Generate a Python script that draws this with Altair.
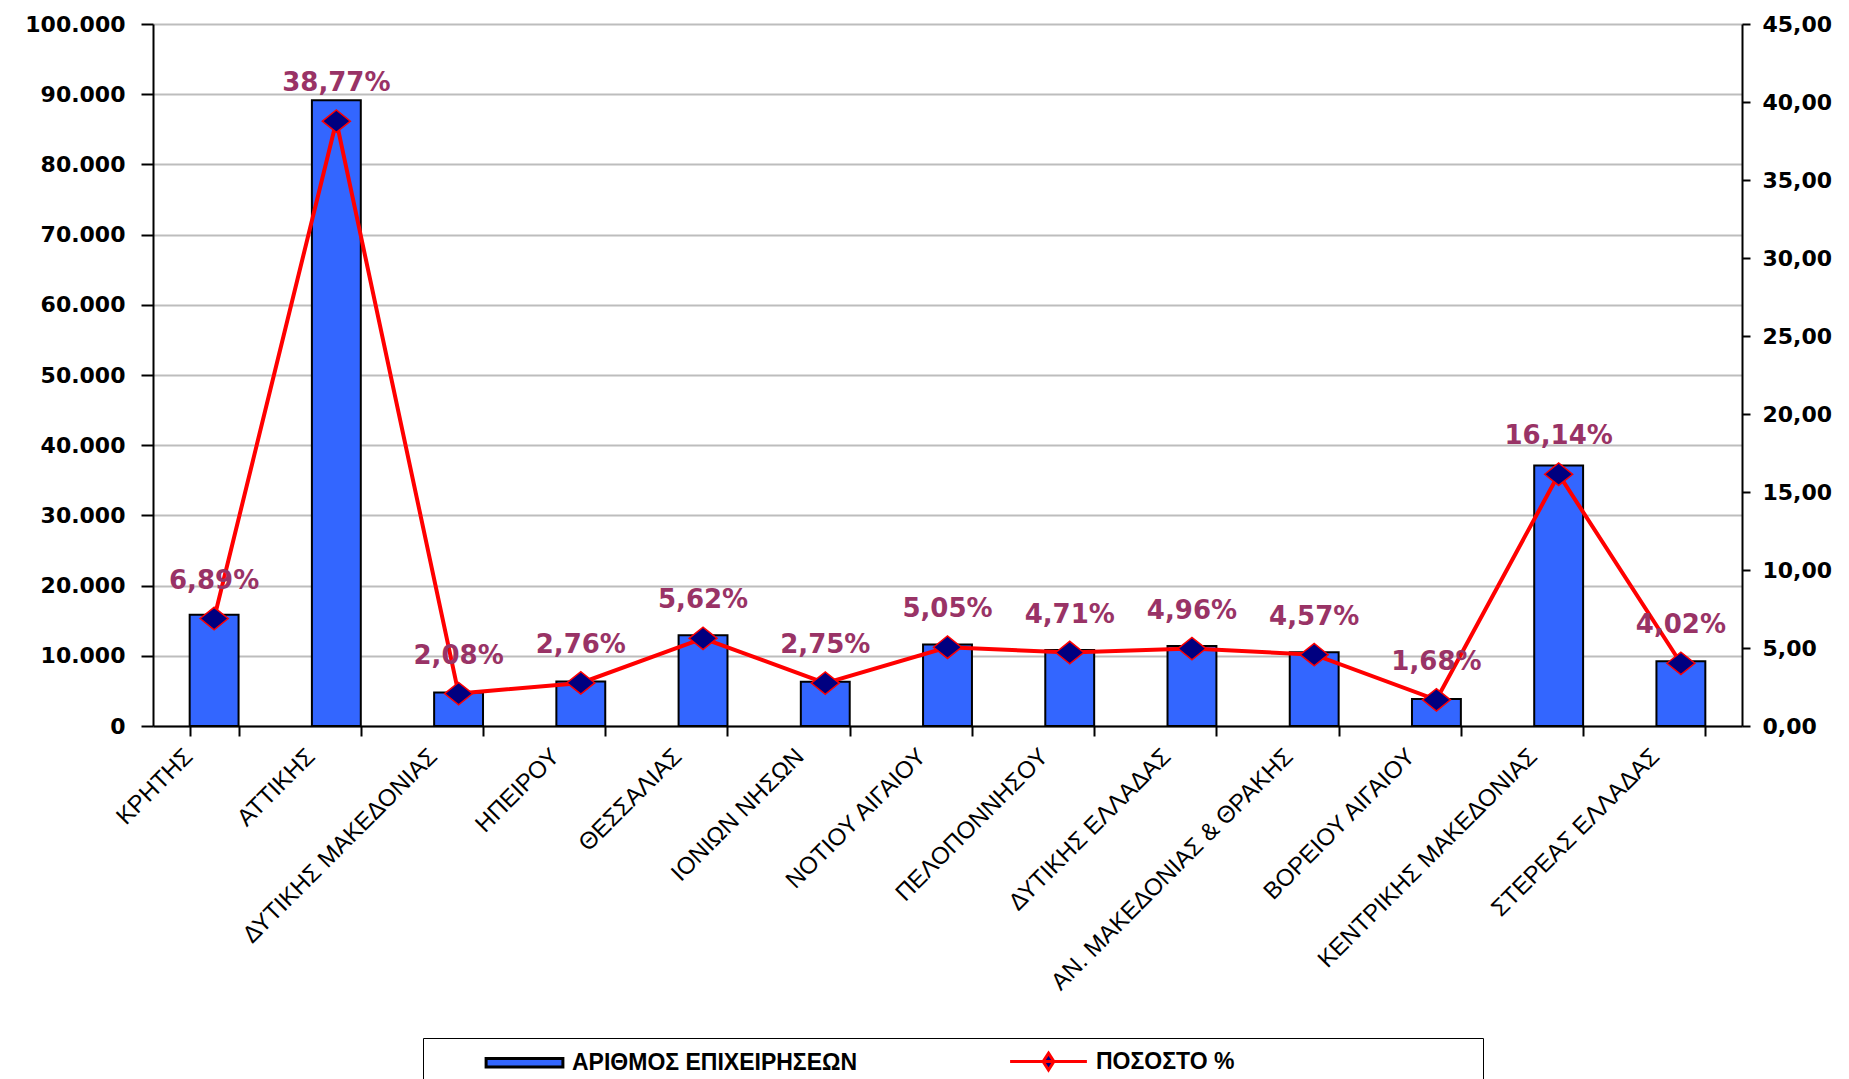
import altair as alt
import pandas as pd

regions = ["ΚΡΗΤΗΣ", "ΑΤΤΙΚΗΣ", "ΔΥΤΙΚΗΣ ΜΑΚΕΔΟΝΙΑΣ", "ΗΠΕΙΡΟΥ", "ΘΕΣΣΑΛΙΑΣ",
           "ΙΟΝΙΩΝ ΝΗΣΩΝ", "ΝΟΤΙΟΥ ΑΙΓΑΙΟΥ", "ΠΕΛΟΠΟΝΝΗΣΟΥ", "ΔΥΤΙΚΗΣ ΕΛΛΑΔΑΣ",
           "ΑΝ. ΜΑΚΕΔΟΝΙΑΣ & ΘΡΑΚΗΣ", "ΒΟΡΕΙΟΥ ΑΙΓΑΙΟΥ", "ΚΕΝΤΡΙΚΗΣ ΜΑΚΕΔΟΝΙΑΣ",
           "ΣΤΕΡΕΑΣ ΕΛΛΑΔΑΣ"]
firms = [15850, 89150, 4780, 6350, 12920, 6320, 11610, 10830, 11400, 10510, 3860, 37110, 9240]
pct = [6.89, 38.77, 2.08, 2.76, 5.62, 2.75, 5.05, 4.71, 4.96, 4.57, 1.68, 16.14, 4.02]
left_ticks = [0, 10000, 20000, 30000, 40000, 50000, 60000, 70000, 80000, 90000, 100000]
right_ticks = [0, 5, 10, 15, 20, 25, 30, 35, 40, 45]
series_names = ["ΑΡΙΘΜΟΣ ΕΠΙΧΕΙΡΗΣΕΩΝ", "ΠΟΣΟΣΤΟ %"]
legend_spacer = "_"

df = pd.DataFrame({"region": regions, "firms": firms, "pct": pct,
                   "series": [series_names[0]] * len(regions)})

AX_FONT = "DejaVu Sans"

x_enc = alt.X(
    "region:N", sort=regions, title=None,
    scale=alt.Scale(paddingInner=0.6, paddingOuter=0.3),
    axis=alt.Axis(
        labelAngle=-45, labelAlign="right", labelBaseline="top",
        labelFont="Liberation Sans", labelFontSize=24, labelColor="black",
        labelPadding=8, labelOffset=-34, labelLimit=500,
        tickBand="extent", tickColor="black", tickWidth=2, tickSize=10,
        domainColor="black", domainWidth=2, grid=False,
    ),
)

left_axis = alt.Axis(
    values=left_ticks, title=None,
    labelExpr="replace(format(datum.value, ',d'), ',', '.')",
    labelFont=AX_FONT, labelFontSize=22, labelFontWeight="bold", labelColor="black",
    labelPadding=16, tickSize=12, tickColor="black", tickWidth=2,
    domainColor="black", domainWidth=2,
    grid=True, gridColor="#BDBDBD", gridWidth=2,
)

right_axis = alt.Axis(
    values=right_ticks, title=None, orient="right",
    labelExpr="replace(format(datum.value, '.2f'), '.', ',')",
    labelFont=AX_FONT, labelFontSize=22, labelFontWeight="bold", labelColor="black",
    labelPadding=12, tickSize=8, tickColor="black", tickWidth=2,
    domainColor="black", domainWidth=2, grid=False,
)

is_bar = "datum.value == '" + series_names[0] + "'"
is_pct = "datum.value == '" + series_names[1] + "'"
rect_path = "M-3.2,-0.35H3.2V0.35H-3.2Z"
line_path = "M-3.2,0H3.2M0,-0.7L0.45,0L0,0.7L-0.45,0Z"
blank_path = "M-3.2,0H2.4"
legend = alt.Legend(
    orient="none", legendX=270, legendY=1014, direction="horizontal",
    title=None,
    labelFont="Liberation Sans", labelFontSize=23, labelFontWeight="bold",
    labelColor="black", labelOffset=34, labelLimit=900, columnPadding=99,
    padding=10, strokeColor="black",
    symbolSize=576, symbolOffset=78,
    symbolType={"expr": is_pct + " ? '" + line_path + "' : (" + is_bar + " ? '" + rect_path + "' : '" + blank_path + "')"},
    symbolStrokeColor={"expr": is_pct + " ? '#FF0000' : (" + is_bar + " ? 'black' : 'transparent')"},
    symbolStrokeWidth=3,
    symbolOpacity=1,
    labelExpr="datum.value == '" + legend_spacer + "' ? '' : datum.label",
)

bars = alt.Chart(df).mark_bar(stroke="black", strokeWidth=2, opacity=1).encode(
    x=x_enc,
    y=alt.Y("firms:Q", scale=alt.Scale(domain=[0, 100000], nice=False), axis=left_axis),
    color=alt.Color("series:N",
                    scale=alt.Scale(domain=series_names + [legend_spacer],
                                    range=["#3366FF", "#000080", "transparent"]),
                    legend=legend),
)

y_pct = alt.Y("pct:Q", scale=alt.Scale(domain=[0, 45], nice=False), axis=right_axis)

line = alt.Chart(df).mark_line(color="#FF0000", strokeWidth=4).encode(x=x_enc, y=y_pct)
points = alt.Chart(df).mark_point(
    shape="M-1,0L0,-0.8L1,0L0,0.8Z", size=784, filled=True,
    fill="#000080", stroke="#FF0000", strokeWidth=1.5, opacity=1,
).encode(x=x_enc, y=y_pct)
labels = alt.Chart(df).transform_calculate(
    label="replace(format(datum.pct, '.2f'), '.', ',') + '%'"
).mark_text(
    dy=-38, color="#993366", font=AX_FONT, fontSize=26, fontWeight="bold", baseline="middle",
).encode(x=x_enc, y=y_pct, text="label:N")

pct_layer = alt.layer(line, points, labels)

chart = alt.layer(bars, pct_layer).resolve_scale(y="independent").properties(
    width=1589, height=702,
    autosize=alt.AutoSizeParams(type="none"),
    padding={"left": 145, "top": 16, "right": 95, "bottom": 353},
).configure_view(stroke=None)

chart.save("out.html", embed_options={"renderer": "svg", "actions": False})
